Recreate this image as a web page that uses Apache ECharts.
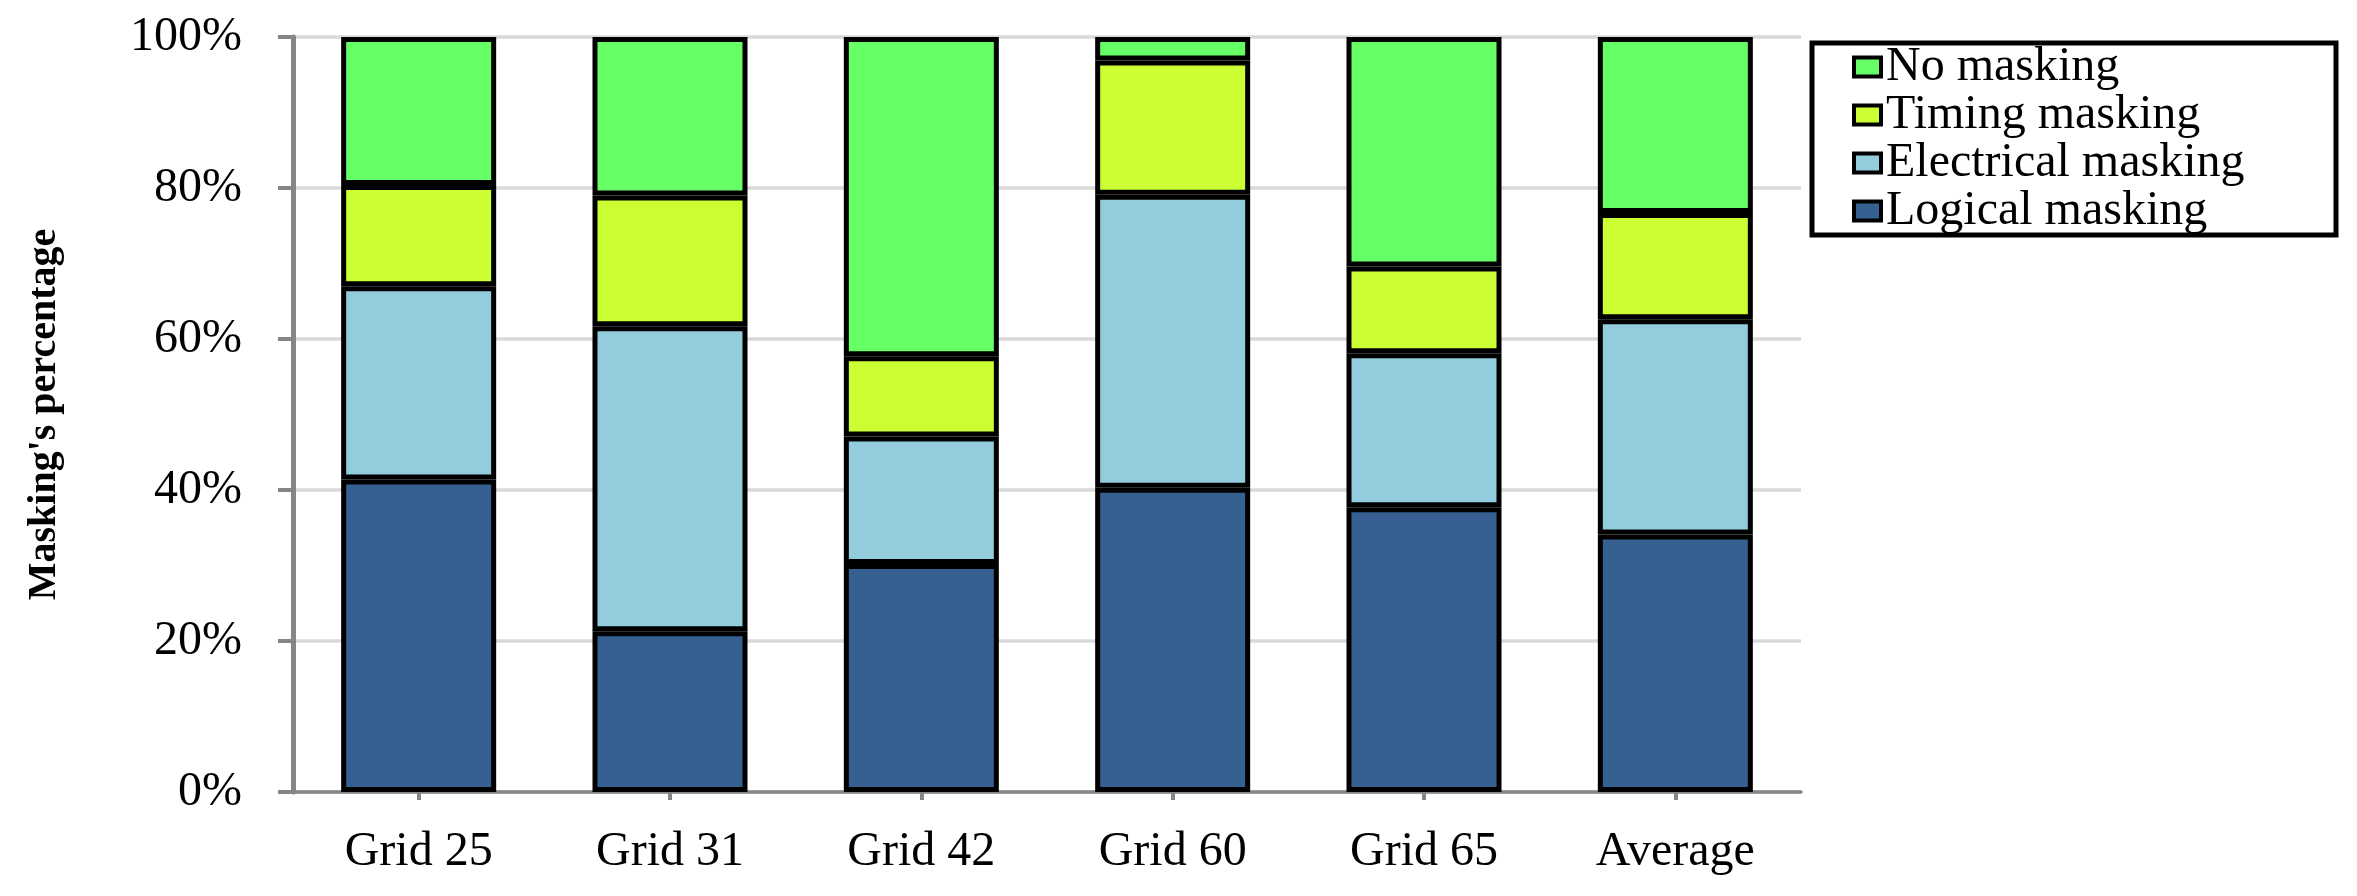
<!DOCTYPE html>
<html>
<head>
<meta charset="utf-8">
<title>Masking's percentage</title>
<script src="https://cdn.jsdelivr.net/npm/echarts@6/dist/echarts.min.js"></script>
<style>
  html, body { margin: 0; padding: 0; background: #ffffff; }
  #chart { width: 2357px; height: 896px; }
</style>
</head>
<body>
<div id="chart"></div>
<script>
// ---- data (percent of each category) ----
var categories = ['Grid 25', 'Grid 31', 'Grid 42', 'Grid 60', 'Grid 65', 'Average'];
var logicalMasking    = [41.4, 21.3, 30.2, 40.3, 37.7, 34.1];
var electricalMasking = [25.6, 40.4, 16.9, 38.8, 20.4, 28.5];
var timingMasking     = [13.4, 17.3, 10.6, 17.8, 11.5, 14.1];
var noMasking         = [19.6, 21.0, 42.3,  3.1, 30.4, 23.3];
var yTicks = [0, 20, 40, 60, 80, 100];
var legendOrder = ['No masking', 'Timing masking', 'Electrical masking', 'Logical masking'];

var FONT = "'Liberation Serif', 'Times New Roman', serif";
var colors = {
  'Logical masking': '#376092',
  'Electrical masking': '#93cddd',
  'Timing masking': '#ccff33',
  'No masking': '#66ff66'
};

function barSeries(name, data) {
  return {
    name: name,
    type: 'bar',
    stack: 'total',
    data: data,
    barWidth: 155,
    itemStyle: { color: colors[name], borderColor: '#000000', borderWidth: 5 },
    emphasis: { disabled: true }
  };
}

var chart = echarts.init(document.getElementById('chart'));
chart.setOption({
  animation: false,
  backgroundColor: '#ffffff',
  textStyle: { fontFamily: FONT },
  grid: { left: 293, right: 556, top: 37, bottom: 104, containLabel: false },
  legend: {
    orient: 'vertical',
    left: 1812,
    top: 43,
    data: legendOrder,
    icon: 'rect',
    itemWidth: 27,
    itemHeight: 19,
    itemGap: 0,
    padding: [0, 40, 0, 40],
    borderColor: '#000000',
    borderWidth: 5,
    itemStyle: { borderColor: '#000000', borderWidth: 4 },
    textStyle: { fontFamily: FONT, fontSize: 48, color: '#000000', lineHeight: 47, width: 410 },
    selectedMode: false
  },
  xAxis: {
    type: 'category',
    data: categories,
    axisLine: { show: true, lineStyle: { color: '#868686', width: 3.5 } },
    axisTick: { show: true, alignWithLabel: true, length: 8, lineStyle: { color: '#868686', width: 4 } },
    axisLabel: { fontFamily: FONT, fontSize: 48, color: '#000000', margin: 36, interval: 0 }
  },
  yAxis: {
    type: 'value',
    min: yTicks[0],
    max: yTicks[yTicks.length - 1],
    interval: yTicks[1] - yTicks[0],
    name: "Masking's percentage",
    nameLocation: 'middle',
    nameRotate: 90,
    nameGap: 248,
    nameTextStyle: { fontFamily: FONT, fontSize: 40, fontWeight: 'bold', color: '#000000', verticalAlign: 'middle' },
    axisLine: { show: true, lineStyle: { color: '#868686', width: 5 } },
    axisTick: { show: true, length: 15, lineStyle: { color: '#868686', width: 4 } },
    axisLabel: { fontFamily: FONT, fontSize: 48, color: '#000000', margin: 51, formatter: '{value}%' },
    splitLine: { show: true, lineStyle: { color: '#d9d9d9', width: 3.5 } }
  },
  series: [
    barSeries('Logical masking', logicalMasking),
    barSeries('Electrical masking', electricalMasking),
    barSeries('Timing masking', timingMasking),
    barSeries('No masking', noMasking)
  ]
});
</script>
</body>
</html>
